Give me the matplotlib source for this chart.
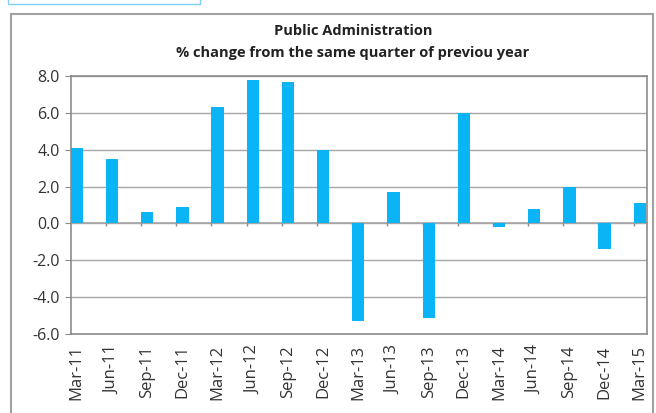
import numpy as np
import matplotlib.pyplot as plt
from matplotlib.patches import Rectangle

# ---- data ----
quarters = ['Mar-11', 'Jun-11', 'Sep-11', 'Dec-11', 'Mar-12', 'Jun-12', 'Sep-12', 'Dec-12',
            'Mar-13', 'Jun-13', 'Sep-13', 'Dec-13', 'Mar-14', 'Jun-14', 'Sep-14', 'Dec-14', 'Mar-15']
pct_change = [4.1, 3.5, 0.6, 0.9, 6.3, 7.8, 7.7, 4.0,
              -5.3, 1.7, -5.1, 6.0, -0.2, 0.8, 2.0, -1.4, 1.1]
y_ticks = [-6.0, -4.0, -2.0, 0.0, 2.0, 4.0, 6.0, 8.0]

plt.rcParams['font.family'] = ['Open Sans', 'DejaVu Sans']

fig = plt.figure(figsize=(6.56, 4.13), dpi=100)
ax = fig.add_axes([0.108, 0.191, 0.878, 0.625])

x = np.arange(len(quarters))
bw = 0.35
ax.bar(x, pct_change, width=bw, color='#0AB4F5', zorder=3)

# gridlines + zero axis line
for t in y_ticks:
    ax.axhline(t, color='#A6A6A6', lw=1.0, zorder=1)
ax.axhline(0, color='#A6A6A6', lw=1.2, zorder=2)
# small tick marks on the zero line (at category boundaries)
ax.vlines(x[1:] - bw / 2, -0.15, 0, color='#8C8C8C', lw=1.0, zorder=2)

ax.set_xlim(-0.17, len(quarters) - 0.8)
ax.set_ylim(-6, 8)
ax.set_yticks(y_ticks)
ax.set_yticklabels([f'{v:.1f}' for v in y_ticks], fontsize=11.5, color='#333333')
ax.set_xticks(x)
ax.set_xticklabels(quarters, rotation=90, fontsize=12, color='#333333')
ax.tick_params(axis='x', length=0, pad=8)
ax.tick_params(axis='y', length=4, color='#8C8C8C', pad=4)
for s in ax.spines.values():
    s.set_color('#8C8C8C')
    s.set_linewidth(1.2)

fig.text(0.538, 0.925, 'Public Administration', ha='center', va='center',
         fontsize=10.5, fontweight='bold', color='#222222')
fig.text(0.538, 0.872, '% change from the same quarter of previou year', ha='center', va='center',
         fontsize=10.5, fontweight='bold', color='#222222')

# outer chart border and fragment of box at top-left
fig.patches.append(Rectangle((11 / 656, -0.05), (653 - 11) / 656, 1.05 - 14 / 413,
                             transform=fig.transFigure, fill=False,
                             edgecolor='#A0A0A0', lw=1.5))
fig.patches.append(Rectangle((8 / 656, 1 - 3.5 / 413), (200 - 8) / 656, 0.05,
                             transform=fig.transFigure, fill=False,
                             edgecolor='#7FD0F5', lw=1.0))

plt.savefig('out.png', dpi=100)
